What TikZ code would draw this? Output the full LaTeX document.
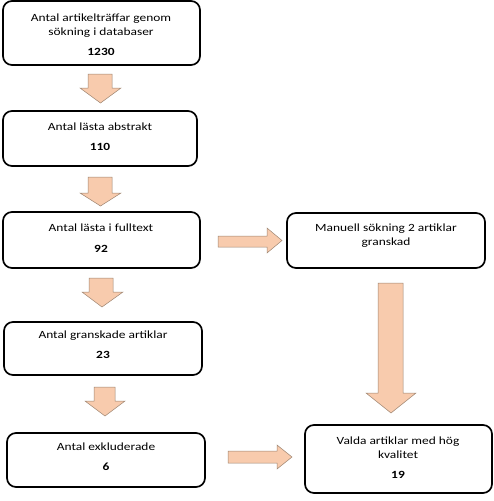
\documentclass[tikz,border=0pt]{standalone}
\usepackage{fontspec}
\setmainfont{Carlito}[FakeStretch=1.22]
\definecolor{peach}{HTML}{F8CBAD}
\definecolor{peachline}{HTML}{9C8470}
\begin{document}
\begin{tikzpicture}[x=1pt,y=-1pt,
  box/.style={draw=black,line width=1.7pt,rounded corners=9pt,inner sep=0pt},
  txt/.style={align=center,inner sep=0pt,font=\fontsize{11}{14}\selectfont},
  blockarrow/.style={fill=peach,draw=peachline,line width=0.5pt,line join=miter}]
\useasboundingbox (0,0) rectangle (494,501);
% boxes
\draw[box] (3,1) rectangle (200,65);
\draw[box] (3,111) rectangle (197,166);
\draw[box] (3,212) rectangle (200,268);
\draw[box] (4,322) rectangle (202,375);
\draw[box] (7,433) rectangle (205,487);
\draw[box] (287,213) rectangle (485,268);
\draw[box] (305,425) rectangle (492,493);
% texts
\node[txt] (t1) at (101,35) {Antal artikelträffar genom\\sökning i databaser\\[6pt]\textbf{1230}};
\node[txt] (t2) at (100,137) {Antal lästa abstrakt\\[6pt]\textbf{110}};
\node[txt] (t3) at (101,238) {Antal lästa i fulltext\\[7pt]\textbf{92}};
\node[txt] (t4) at (103,345) {Antal granskade artiklar\\[6pt]\textbf{23}};
\node[txt] (t5) at (106,457) {Antal exkluderade\\[6pt]\textbf{6}};
\node[txt] (t6) at (386,235.5) {Manuell sökning 2 artiklar\\granskad};
\node[txt] (t7) at (398,457.5) {Valda artiklar med hög\\kvalitet\\[6pt]\textbf{19}};
% vertical block arrows
\draw[blockarrow] (88,74) -- (112,74) -- (112,88) -- (121,88) -- (100.5,103) -- (80,88) -- (88,88) -- cycle;
\draw[blockarrow] (88,177) -- (112,177) -- (112,193) -- (121,193) -- (100.5,206) -- (80,193) -- (88,193) -- cycle;
\draw[blockarrow] (89,278) -- (113,278) -- (113,292) -- (123,292) -- (102,307) -- (82,292) -- (89,292) -- cycle;
\draw[blockarrow] (94,387) -- (115,387) -- (115,401) -- (125,401) -- (105,416) -- (85,401) -- (94,401) -- cycle;
\draw[blockarrow] (378,283) -- (403,283) -- (403,393) -- (416,393) -- (391,413) -- (366,393) -- (378,393) -- cycle;
% horizontal block arrows
\draw[blockarrow] (218,236) -- (267,236) -- (267,228) -- (282,240.5) -- (267,253) -- (267,247) -- (218,247) -- cycle;
\draw[blockarrow] (228,451) -- (277,451) -- (277,445) -- (292,457) -- (277,469) -- (277,463) -- (228,463) -- cycle;
\end{tikzpicture}
\end{document}
